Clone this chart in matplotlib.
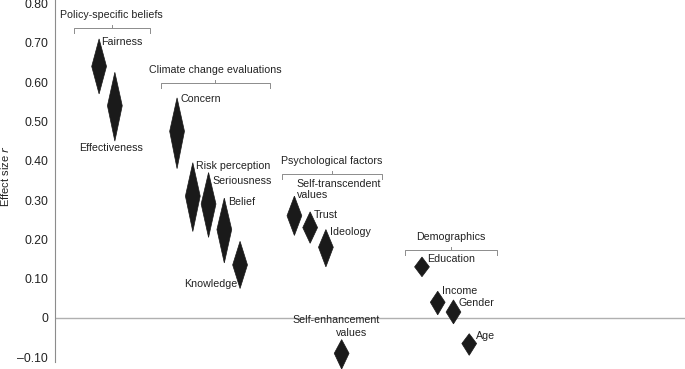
import matplotlib
matplotlib.use("Agg")
import matplotlib.pyplot as plt
from matplotlib.patches import Polygon

plt.rcParams['font.family'] = ['Liberation Sans', 'DejaVu Sans']

# ---- data ----
labels = ["Fairness", "Effectiveness", "Concern", "Risk perception", "Seriousness",
          "Belief", "Knowledge", "Self-transcendent\nvalues", "Trust", "Ideology",
          "Self-enhancement", "Education", "Income", "Gender", "Age"]
x_pos = [2.8, 3.8, 7.75, 8.75, 9.75, 10.75, 11.75, 15.2, 16.2, 17.2, 18.2,
         23.3, 24.3, 25.3, 26.3]
effect = [0.64, 0.54, 0.475, 0.31, 0.29, 0.225, 0.135, 0.26, 0.23, 0.18, -0.09,
          0.13, 0.04, 0.015, -0.065]
ci_low = [0.57, 0.45, 0.38, 0.22, 0.205, 0.14, 0.075, 0.21, 0.19, 0.13, -0.13,
          0.105, 0.008, -0.015, -0.095]
ci_high = [0.71, 0.625, 0.56, 0.395, 0.37, 0.305, 0.195, 0.31, 0.27, 0.225, -0.055,
           0.155, 0.068, 0.046, -0.04]

groups = ["Policy-specific beliefs", "Climate change evaluations",
          "Psychological factors", "Demographics"]
group_x0 = [1.2, 6.7, 14.4, 22.2]
group_x1 = [6.0, 13.65, 20.75, 28.05]
group_y = [0.738, 0.598, 0.366, 0.173]

yticks = [-0.10, 0, 0.10, 0.20, 0.30, 0.40, 0.50, 0.60, 0.70, 0.80]
ytick_labels = ["\u20130.10", "0", "0.10", "0.20", "0.30", "0.40", "0.50",
                "0.60", "0.70", "0.80"]

# ---- label placement (anchor: 'top' or 'bottom' tip; offsets in points) ----
anchor = ["top", "bottom", "top", "top", "top", "top", "bottom", "top", "top", "top",
          "top", "top", "top", "top", "top"]
dx = [1.5, -3, 2.5, 2.5, 3, 2.5, -2, 1.5, 2.5, 3, 0, 4, 3, 3.5, 5]
dy = [-2, -5, -1, -2, -6, -3, 3, 5, -2, -2, 0, -1.5, 0, -2, -2]
ha = ["left", "center", "left", "left", "left", "left", "right", "left", "left", "left",
      "center", "left", "left", "left", "left"]

fig = plt.figure(figsize=(6.85, 3.69), dpi=100)
ax = fig.add_axes([55 / 685, 7 / 369, 630 / 685, 362 / 369])
ax.set_xlim(0, 40)
ax.set_ylim(-0.112, 0.809)

half_w = 0.47
dcol = "#1a1a1a"
tcol = "#222222"
for i in range(len(labels)):
    x = x_pos[i]
    poly = Polygon([(x - half_w, effect[i]), (x, ci_high[i]), (x + half_w, effect[i]),
                    (x, ci_low[i])], closed=True, facecolor=dcol, edgecolor=dcol,
                   linewidth=0.5, clip_on=False, zorder=3)
    ax.add_patch(poly)
    if labels[i] == "Self-enhancement":
        ax.annotate("Self-enhancement", xy=(x, ci_high[i]), xytext=(-4, 14),
                    textcoords="offset points", ha="center", va="center",
                    fontsize=7.7, color=tcol)
        ax.annotate("values", xy=(x, ci_high[i]), xytext=(7, 5),
                    textcoords="offset points", ha="center", va="center",
                    fontsize=7.7, color=tcol)
        continue
    y = ci_high[i] if anchor[i] == "top" else ci_low[i]
    ax.annotate(labels[i], xy=(x, y), xytext=(dx[i], dy[i]),
                textcoords="offset points", ha=ha[i], va="center",
                fontsize=7.7, color=tcol, linespacing=1.15, zorder=4)

# group brackets
bcol = "#8c8c8c"
for g, x0, x1, yb in zip(groups, group_x0, group_x1, group_y):
    xm = (x0 + x1) / 2
    ax.plot([x0, x0, x1, x1], [yb - 0.012, yb, yb, yb - 0.012], color=bcol,
            linewidth=0.7, solid_joinstyle="round")
    ax.plot([xm, xm], [yb, yb + 0.008], color=bcol, linewidth=0.7)
    ax.text(xm, yb + 0.034, g, ha="center", va="center", fontsize=7.7, color=tcol)

ax.axhline(0, color="#b0b0b0", linewidth=1.0, zorder=1)

for s in ["top", "right", "bottom"]:
    ax.spines[s].set_visible(False)
ax.spines["left"].set_color("#8c8c8c")
ax.spines["left"].set_linewidth(0.8)
ax.set_xticks([])
ax.set_yticks(yticks)
ax.set_yticklabels(ytick_labels)
ax.tick_params(axis="y", length=0, pad=5, labelsize=8.8, labelcolor=tcol)
ax.set_ylabel("Effect size $\\it{r}$", fontsize=8, color=tcol)
ax.yaxis.set_label_coords(-0.079, 0.514)
ax.yaxis.label.set_va("center")

fig.savefig("out.png", dpi=100)
